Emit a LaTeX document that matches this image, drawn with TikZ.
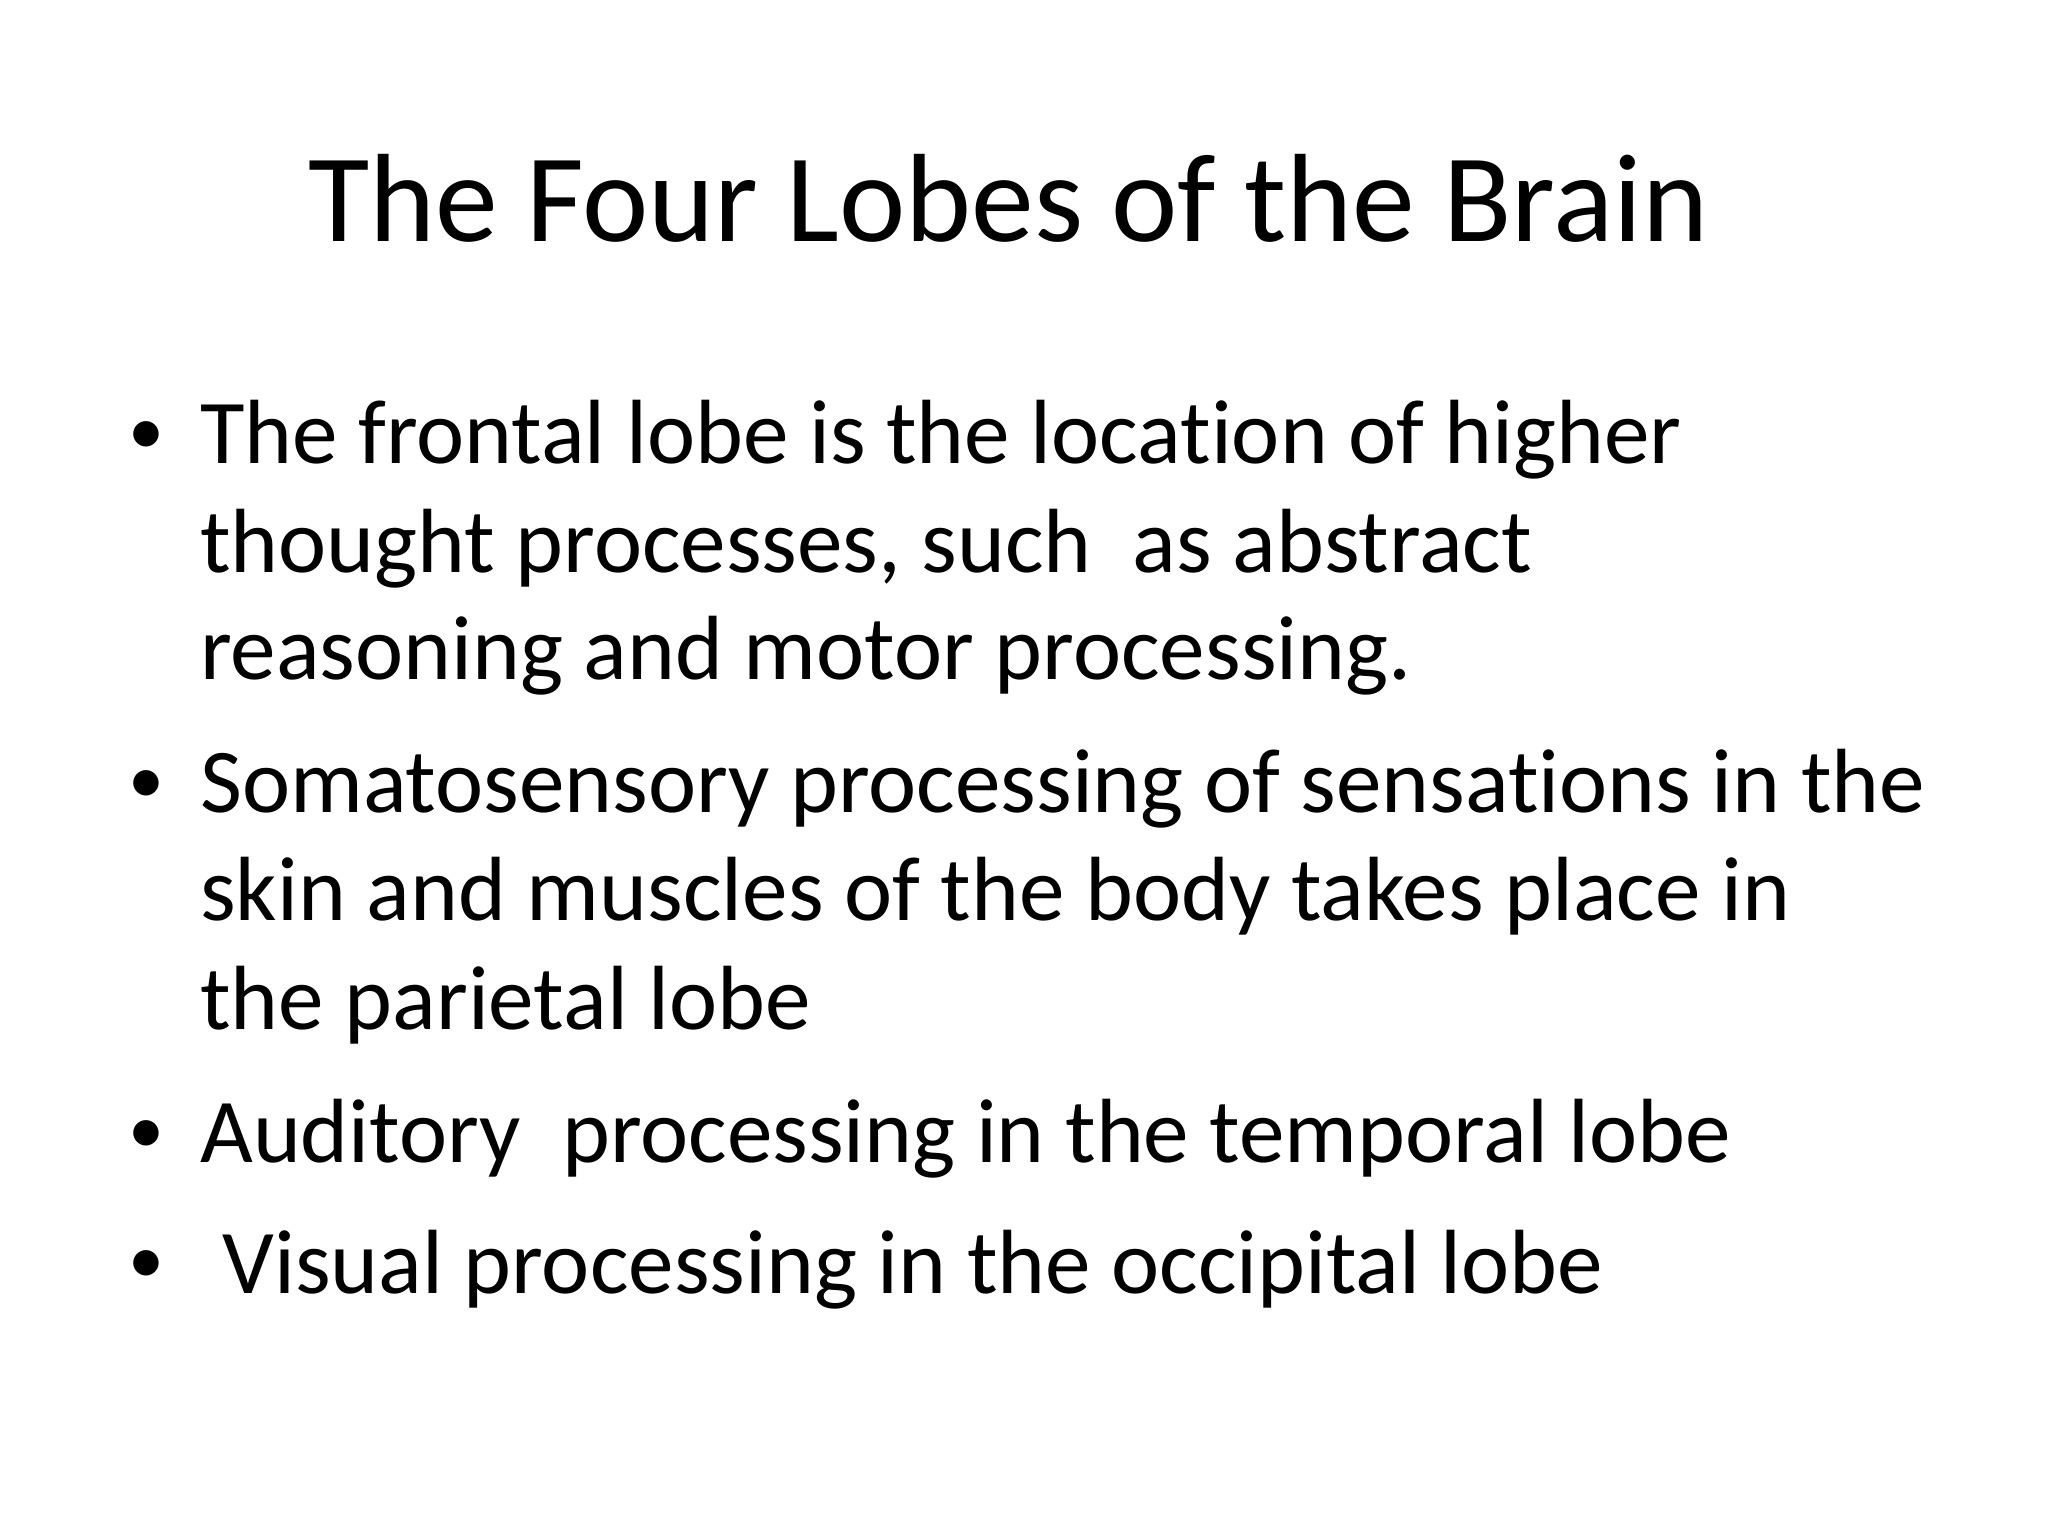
\documentclass[tikz,border=0pt]{standalone}
\usepackage{fontspec}
\setmainfont[Ligatures=NoCommon]{Carlito}
\begin{document}
\begin{tikzpicture}[x=0.6531pt,y=-0.6531pt,
  body/.style={anchor=base west,inner sep=0pt,font=\fontsize{45.6}{55}\selectfont},
  bul/.style={anchor=base west,inner sep=0pt,font=\fontsize{36}{40}\selectfont}]
\useasboundingbox (0,0) rectangle (1568,1176);
\node[anchor=base,inner sep=0pt,font=\fontsize{62.8}{75}\selectfont] (title) at (772,185) {The Four Lobes of the Brain};
\foreach \y/\n in {348/b1,615/b2,883/b3,983/b4} \node[bul] (\n) at (98,\y) {•};
\node[body] (l1) at (153,355) {The frontal lobe is the location of higher};
\node[body] (l2) at (153,438) {thought processes, such\ \ as abstract};
\node[body] (l3) at (153,520) {reasoning and motor processing.};
\node[body] (l4) at (153,622) {Somatosensory processing of sensations in the};
\node[body] (l5) at (153,705) {skin and muscles of the body takes place in};
\node[body] (l6) at (153,788) {the parietal lobe};
\node[body] (l7) at (153,890) {Auditory\ \ processing in the temporal lobe};
\node[body] (l8) at (170,990) {Visual processing in the occipital lobe};
\end{tikzpicture}
\end{document}
